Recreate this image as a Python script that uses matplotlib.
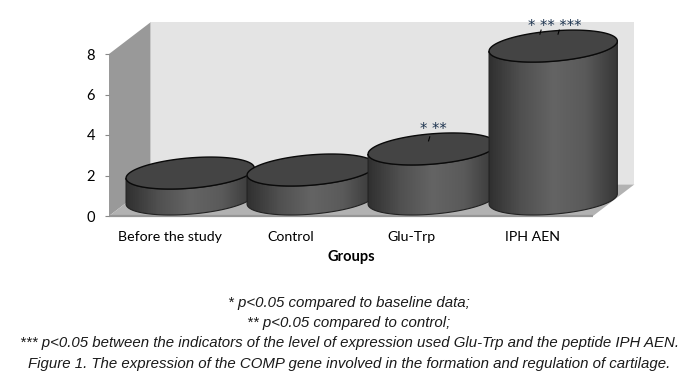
import numpy as np
import matplotlib
matplotlib.use("Agg")
import matplotlib.pyplot as plt
from matplotlib.patches import Polygon
from matplotlib.colors import LinearSegmentedColormap

groups = ["Before the study", "Control", "Glu-Trp", "IPH AEN"]
values = [1.28, 1.43, 2.47, 7.55]
stars = ["", "", "* **", "* ** ***"]
yticks = [0, 2, 4, 6, 8]
caption = [
    "* p<0.05 compared to baseline data;",
    "** p<0.05 compared to control;",
    "*** p<0.05 between the indicators of the level of expression used Glu-Trp and the peptide IPH AEN.",
    "Figure 1. The expression of the COMP gene involved in the formation and regulation of cartilage.",
]

# fake 3d depth of the box, in data units
depth_x = 0.342
depth_y = 1.56
top_y = 8 + depth_y

fig = plt.figure(figsize=(6.9, 3.89), dpi=100)
ax = fig.add_axes([109 / 690, (389 - 216) / 389, 484 / 690, 162 / 389])

x0, x1 = -0.5, 3.5
ax.add_patch(Polygon([(x0 + depth_x, depth_y), (x1 + depth_x, depth_y), (x1 + depth_x, top_y), (x0 + depth_x, top_y)],
                     fc="#e4e4e4", ec="none", zorder=1, clip_on=False))
ax.add_patch(Polygon([(x0, 0), (x0 + depth_x, depth_y), (x0 + depth_x, top_y), (x0, 8)],
                     fc="#999999", ec="none", zorder=1, clip_on=False))
ax.add_patch(Polygon([(x0, 0), (x1, 0), (x1 + depth_x, depth_y), (x0 + depth_x, depth_y)],
                     fc="#b2b2b2", ec="none", zorder=1, clip_on=False))
ax.plot([x0, x1], [0, 0], color="#969696", lw=1.6, zorder=1.5, solid_capstyle="butt", clip_on=False)

# cylinder shape: sheared ellipse so the sides stay vertical
half_w = 0.53
half_h = 0.75
shear = 0.25
cmap = LinearSegmentedColormap.from_list("side", ["#303030", "#505050", "#646464", "#5a5a5a", "#363636"])
ramp = np.linspace(0, 1, 200).reshape(1, -1)
t = np.linspace(0, 2 * np.pi, 200)
front = np.linspace(np.pi, 2 * np.pi, 100)
leaders = {2: [(-0.03, 0.6)], 3: [(-0.11, 0.79), (0.04, 0.79)]}


def ellipse(cx, cy, angle):
    return cx + half_w * np.cos(angle), cy + shear * np.cos(angle) + half_h * np.sin(angle)


for i, v in enumerate(values):
    z = 3 + i
    cx = i + depth_x / 2
    base = depth_y / 2 + 0.06
    bx, by = ellipse(cx, base, front)
    tx, ty = ellipse(cx, base + v, front[::-1])
    side = Polygon(np.column_stack([np.r_[bx, tx], np.r_[by, ty]]), fc="none", ec="#222222", lw=0.8,
                   zorder=z + 0.2, clip_on=False)
    ax.add_patch(side)
    img = ax.imshow(ramp, cmap=cmap, aspect="auto", zorder=z, vmin=0, vmax=1,
                    extent=[cx - half_w, cx + half_w, 0, base + v + 1])
    img.set_clip_path(side)
    img.set_clip_box(fig.bbox)
    ex, ey = ellipse(cx, base + v, t)
    ax.fill(ex, ey, fc="#444444", ec="#0a0a0a", lw=1.0, zorder=z + 0.4, clip_on=False)
    if stars[i]:
        ax.text(cx + 0.01, base + v + half_h + 0.2, stars[i], ha="center", va="center", fontsize=10.5,
                color="#1f3550", family="DejaVu Sans", zorder=20)
    for dx, dy in leaders.get(i, []):
        ax.plot([cx + dx + 0.01, cx + dx], [base + v + dy, base + v + dy - 0.2], color="black", lw=0.8, zorder=20,
                clip_on=False)

ax.set_xlim(x0, x1)
ax.set_ylim(0, 8)
for spine in ax.spines.values():
    spine.set_visible(False)
ax.set_yticks(yticks)
ax.set_xticks(range(len(groups)), groups)
ax.tick_params(axis="y", length=3, width=0.8, color="#888888", pad=7)
ax.tick_params(axis="x", length=0, pad=10.5)
for lab in ax.get_xticklabels():
    lab.set_family("Lato")
    lab.set_fontsize(10.2)
for lab in ax.get_yticklabels():
    lab.set_family("Lato")
    lab.set_fontsize(10.5)
ax.set_xlabel("Groups", family="Lato", fontweight="bold", fontsize=10.5, labelpad=5.5)

for line, py in zip(caption, [303, 323, 343, 364]):
    fig.text(349 / 690, 1 - py / 389, line, ha="center", va="center", family="Liberation Sans",
             style="italic", fontsize=10.8, color="#1a1a1a")

fig.savefig("out.png", dpi=100)
